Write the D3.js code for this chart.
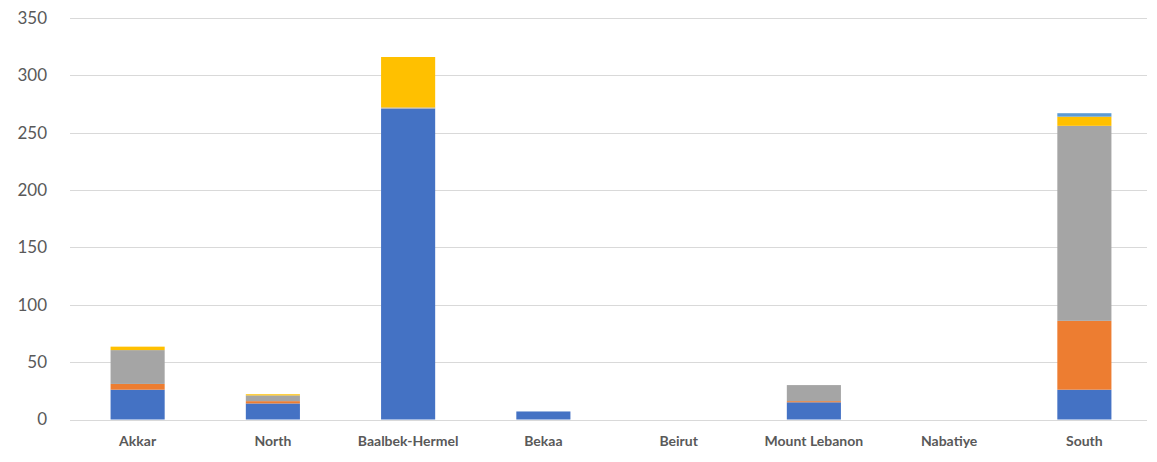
<!DOCTYPE html>
<html><head><meta charset="utf-8">
<script src="https://cdn.jsdelivr.net/npm/d3@7"></script>
<style>body{margin:0;background:#fff}svg{display:block}</style>
</head><body>
<script>
const categories = ["Akkar","North","Baalbek-Hermel","Bekaa","Beirut","Mount Lebanon","Nabatiye","South"];
const series1 = [26, 14, 271, 7, 0, 15, 0, 26];
const series2 = [5, 2, 0, 0, 0, 1, 0, 60];
const series3 = [29.5, 5, 1, 0, 0, 14, 0, 170];
const series4 = [3, 1, 44, 0, 0, 0, 0, 8];
const series5 = [0, 0, 0, 0, 0, 0, 0, 3];
const yTicks = [0, 50, 100, 150, 200, 250, 300, 350];
const colors = ["#4472C4", "#ED7D31", "#A5A5A5", "#FFC000", "#5B9BD5"];

const W = 1157, H = 462;
const m = {left: 70, right: 10, top: 18, bottom: 43};
const svg = d3.select("body").append("svg").attr("width", W).attr("height", H);

const allSeries = [series1, series2, series3, series4, series5];
const rows = categories.map((c, i) => {
  const r = {cat: c};
  allSeries.forEach((s, k) => r["s" + k] = s[i]);
  return r;
});
const keys = allSeries.map((_, k) => "s" + k);
const stacked = d3.stack().keys(keys)(rows);

const x = d3.scaleBand().domain(categories).range([m.left, 1152]).paddingInner(0.6).paddingOuter(0.3);
const y = d3.scaleLinear().domain([0, 350]).range([H - m.bottom + 0.5, m.top]);

// gridlines
svg.append("g").selectAll("line").data(yTicks).join("line")
  .attr("x1", m.left).attr("x2", W - m.right)
  .attr("y1", d => Math.round(y(d)) + 0.5).attr("y2", d => Math.round(y(d)) + 0.5)
  .attr("stroke", "#D9D9D9").attr("stroke-width", 1);

// y labels
svg.append("g").selectAll("text").data(yTicks).join("text")
  .attr("x", 47).attr("y", d => y(d)).attr("dy", "0.35em")
  .attr("text-anchor", "end").attr("fill", "#595959")
  .attr("font-family", "Lato, 'Open Sans', sans-serif").attr("font-size", 17)
  .text(d => d);

// bars
svg.append("g").selectAll("g").data(stacked).join("g")
  .attr("fill", (d, i) => colors[i])
  .selectAll("rect").data(d => d).join("rect")
  .attr("x", d => x(d.data.cat))
  .attr("width", x.bandwidth())
  .attr("y", d => y(d[1]))
  .attr("height", d => Math.max(0, y(d[0]) - y(d[1])));

// x labels
svg.append("g").selectAll("text").data(categories).join("text")
  .attr("x", d => x(d) + x.bandwidth() / 2).attr("y", 446)
  .attr("text-anchor", "middle").attr("fill", "#595959")
  .attr("font-family", "Lato, 'Open Sans', sans-serif").attr("font-size", 14).attr("font-weight", "bold")
  .text(d => d);
</script>
</body></html>
